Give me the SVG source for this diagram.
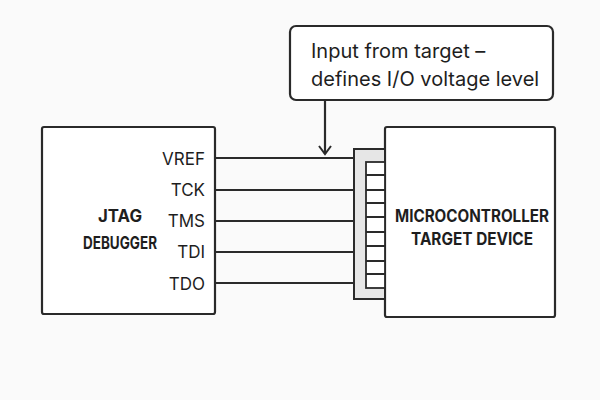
<svg xmlns="http://www.w3.org/2000/svg" width="600" height="400" viewBox="0 0 600 400">
<style>
.b{fill:#fff;stroke:#2a2a2a;stroke-width:2.2}
.w{stroke:#2a2a2a;stroke-width:2.2;fill:none}
.t{font-family:"Inter","Liberation Sans",sans-serif;fill:#1e1e1e}
.bold{font-weight:700;font-size:17px}
.pin{font-size:17px}
</style>
<defs><marker id="ah" markerWidth="14" markerHeight="14" refX="11" refY="7" orient="auto" markerUnits="userSpaceOnUse"><path d="M3,1 L11,7 L3,13" fill="none" stroke="#2a2a2a" stroke-width="2"/></marker></defs>
<rect width="600" height="400" fill="#fafafa"/>
<g id="debugger">
<rect class="b" x="42" y="127" width="173" height="187" rx="2"/>
<text class="t bold" x="120" y="222" text-anchor="middle" textLength="44" lengthAdjust="spacingAndGlyphs">JTAG</text>
<text class="t bold" x="120" y="249" text-anchor="middle" textLength="74" lengthAdjust="spacingAndGlyphs">DEBUGGER</text>
<g class="t pin" text-anchor="end">
<text x="205" y="165">VREF</text><text x="205" y="196">TCK</text><text x="205" y="227">TMS</text><text x="205" y="258">TDI</text><text x="205" y="290">TDO</text>
</g>
</g>
<g id="target">
<rect class="b" x="385" y="127" width="170" height="190" rx="2"/>
<text class="t bold" x="472" y="222" text-anchor="middle" font-size="15" textLength="154" lengthAdjust="spacingAndGlyphs">MICROCONTROLLER</text>
<text class="t bold" x="472" y="245" text-anchor="middle" font-size="15" textLength="122" lengthAdjust="spacingAndGlyphs">TARGET DEVICE</text>
</g>
<g id="header">
<rect x="354" y="149" width="31" height="150" fill="#e6e6e6" stroke="#2a2a2a" stroke-width="2"/>
<rect x="366" y="162" width="19" height="126" fill="#fff" stroke="#2a2a2a" stroke-width="1.8"/>
<path class="w" stroke-width="1.6" d="M366,175H385M366,190H385M366,203H385M366,217H385M366,232H385M366,246H385M366,261H385M366,274H385"/>
</g>
<g id="callout">
<rect class="b" x="290" y="26" width="263" height="74" rx="6"/>
<text class="t" x="311" y="58" font-size="20">Input from target –</text>
<text class="t" x="311" y="86" font-size="20">defines I/O voltage level</text>
</g>
<g id="connectors">
<path class="w" d="M215,158H354M215,190H354M215,221H354M215,252H354M215,283H354"/>
<path class="w" d="M325,100V154" marker-end="url(#ah)"/>
</g>
</svg>
